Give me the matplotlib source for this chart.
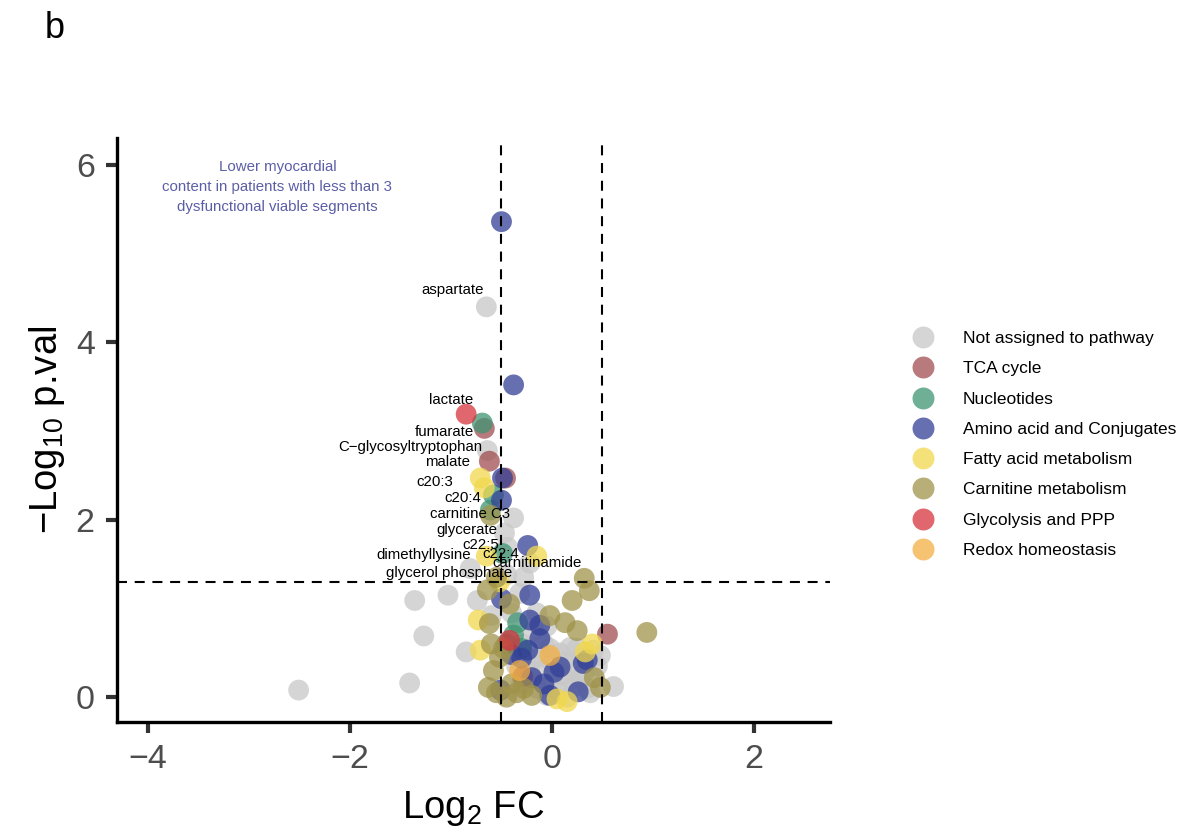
import matplotlib
matplotlib.use("Agg")
import matplotlib.pyplot as plt
from matplotlib.lines import Line2D

plt.rcParams['font.family'] = ['Liberation Sans', 'DejaVu Sans']
plt.rcParams['mathtext.fontset'] = 'custom'
plt.rcParams['mathtext.rm'] = 'Liberation Sans'
plt.rcParams['mathtext.it'] = 'Liberation Sans:italic'

# pathway categories (legend order)
pathways = ['Not assigned to pathway', 'TCA cycle', 'Nucleotides',
            'Amino acid and Conjugates', 'Fatty acid metabolism',
            'Carnitine metabolism', 'Glycolysis and PPP', 'Redox homeostasis']
colors = ['#C8C8C8', '#A04E50', '#3F9472', '#334096',
          '#F2D84E', '#A0934B', '#D6343C', '#F2AF43']

# log2 fold change / -log10 p per pathway
not_assigned_fc = [-2.51, -1.41, -1.27, -1.36, -1.03, -0.85, -0.74, -0.65, -0.64, -0.38,
                   -0.47, -0.44, -0.22, -0.81, -0.32, 0.61, 0.18, 0.41, 0.48,
                   -0.30, -0.20, -0.10, 0.00, 0.10, 0.20, 0.28, 0.35, -0.15, -0.05,
                   0.05, 0.15, 0.22, -0.25, 0.08, -0.08, 0.30, 0.00, -0.18, -0.40,
                   -0.45, -0.28, -0.60, 0.45, -0.35,
                   -0.22, 0.12, 0.25, -0.12, 0.18, -0.02, 0.32, 0.05, -0.30, 0.38,
                   -0.15, -0.05]
not_assigned_p = [0.08, 0.16, 0.69, 1.09, 1.15, 0.51, 1.09, 4.40, 2.78, 2.02,
                  1.85, 1.69, 1.51, 1.45, 1.17, 0.12, 0.56, 0.53, 0.47,
                  0.60, 0.42, 0.30, 0.40, 0.25, 0.35, 0.20, 0.10, 0.10, 0.02,
                  0.08, 0.00, 0.12, 0.20, 0.50, 0.60, 0.45, 0.15, 0.75, 0.95,
                  1.38, 1.35, 0.92, 0.35, 0.35,
                  0.30, 0.40, 0.55, 0.45, 0.20, 0.55, 0.28, 0.30, 0.15, 0.05,
                  0.95, 0.80]

tca_fc = [-0.67, -0.62, -0.46, 0.55, -0.29]
tca_p = [3.03, 2.66, 2.47, 0.71, 0.23]

nucleotides_fc = [-0.69, -0.58, -0.61, -0.49, -0.34, -0.38, -0.30, -0.45]
nucleotides_p = [3.09, 2.28, 2.11, 1.62, 0.84, 0.70, 0.55, 0.60]

amino_fc = [-0.50, -0.38, -0.49, -0.50, -0.24, -0.50, -0.22, -0.22, -0.12, -0.12,
            -0.24, -0.30, 0.08, 0.31, -0.51, 0.26, -0.02, -0.08, -0.20, 0.35,
            0.02, -0.40]
amino_p = [5.36, 3.52, 2.47, 2.22, 1.71, 1.11, 1.15, 0.87, 0.81, 0.66,
           0.53, 0.44, 0.34, 0.38, 0.08, 0.06, 0.02, 0.15, 0.22, 0.42,
           0.28, 0.48]

fatty_fc = [-0.71, -0.67, -0.65, -0.15, -0.73, -0.71, 0.15, 0.33, -0.52, 0.40, 0.05]
fatty_p = [2.47, 2.36, 1.59, 1.59, 0.87, 0.53, -0.05, 0.51, 1.30, 0.60, -0.02]

carnitine_fc = [-0.61, 0.32, 0.37, 0.20, 0.94, -0.64, -0.62, -0.02, 0.13, -0.52,
                -0.58, -0.63, -0.45, 0.48, -0.55, -0.40, -0.35, 0.42, -0.48, -0.60,
                -0.28, -0.20, -0.55, -0.42, 0.25]
carnitine_p = [2.05, 1.34, 1.20, 1.09, 0.73, 1.21, 0.83, 0.92, 0.84, 0.45,
               0.30, 0.11, 0.00, 0.11, 0.05, 0.15, 0.05, 0.22, 0.55, 0.60,
               0.10, 0.02, 1.35, 1.05, 0.75]

glycolysis_fc = [-0.85, -0.42]
glycolysis_p = [3.19, 0.64]

redox_fc = [-0.02, -0.32]
redox_p = [0.47, 0.30]

all_fc = [not_assigned_fc, tca_fc, nucleotides_fc, amino_fc, fatty_fc,
          carnitine_fc, glycolysis_fc, redox_fc]
all_p = [not_assigned_p, tca_p, nucleotides_p, amino_p, fatty_p,
         carnitine_p, glycolysis_p, redox_p]

# labelled metabolites: text, x, y, alignment
labels = [('aspartate', -0.673, 4.59, 'right'),
          ('lactate', -0.782, 3.35, 'right'),
          ('fumarate', -0.773, 2.99, 'right'),
          ('C\u2212glycosyltryptophan', -0.693, 2.82, 'right'),
          ('malate', -0.812, 2.65, 'right'),
          ('c20:3', -0.980, 2.42, 'right'),
          ('c20:4', -0.703, 2.25, 'right'),
          ('carnitine C3', -0.416, 2.06, 'right'),
          ('glycerate', -0.545, 1.88, 'right'),
          ('c22:5', -0.525, 1.72, 'right'),
          ('dimethyllysine', -0.802, 1.60, 'right'),
          ('c22:4', -0.327, 1.61, 'right'),
          ('carnitinamide', -0.594, 1.51, 'left'),
          ('glycerol phosphate', -0.396, 1.40, 'right')]

fig = plt.figure(figsize=(11.85, 8.38), dpi=100)
ax = fig.add_axes([0.0987, 0.1384, 0.6013, 0.6966])

for fc, p, c in zip(all_fc, all_p, colors):
    ax.scatter(fc, p, s=225, color=c, alpha=0.75, edgecolors='none', zorder=2)

dash = (0, (4.8, 3.7))
ax.axvline(-0.5, color='black', lw=1.5, linestyle=dash, zorder=3)
ax.axvline(0.5, color='black', lw=1.5, linestyle=dash, zorder=3)
ax.axhline(1.30103, color='black', lw=1.5, linestyle=dash, zorder=3)

for txt, x, y, ha in labels:
    ax.text(x, y, txt, ha=ha, va='center', fontsize=10.8, color='black', zorder=4)

ax.text(-2.72, 5.75, 'Lower myocardial\ncontent in patients with less than 3\ndysfunctional viable segments',
        ha='center', va='center', fontsize=10.8, color='#5B5EA6', linespacing=1.55)

ax.set_xlim(-4.31, 2.75)
ax.set_ylim(-0.28, 6.3)
ax.set_xticks([-4, -2, 0, 2])
ax.set_xticklabels(['\u22124', '\u22122', '0', '2'])
ax.set_yticks([0, 2, 4, 6])

for s in ['top', 'right']:
    ax.spines[s].set_visible(False)
for s in ['left', 'bottom']:
    ax.spines[s].set_linewidth(2.4)
    ax.spines[s].set_color('black')
ax.tick_params(axis='both', length=8, width=3, color='#333333',
               labelsize=24.5, labelcolor='#4D4D4D', pad=8)

ax.set_xlabel('Log$_2$ FC', fontsize=27.5, labelpad=10)
ax.set_ylabel('\u2212Log$_{10}$ p.val', fontsize=27.5, labelpad=6)

handles = [Line2D([0], [0], marker='o', linestyle='none', markersize=15.8,
                  markerfacecolor=c, markeredgecolor='none', alpha=0.75)
           for c in colors]
fig.legend(handles, pathways, loc='center left', bbox_to_anchor=(0.7713, 0.4696),
           bbox_transform=fig.transFigure, frameon=False, fontsize=12.5,
           handlelength=1.0, handletextpad=1.8, labelspacing=0.87,
           borderpad=0, borderaxespad=0)

fig.text(0.038, 0.955, 'b', fontsize=26, ha='left', va='baseline')

fig.savefig('out.png', dpi=100)
